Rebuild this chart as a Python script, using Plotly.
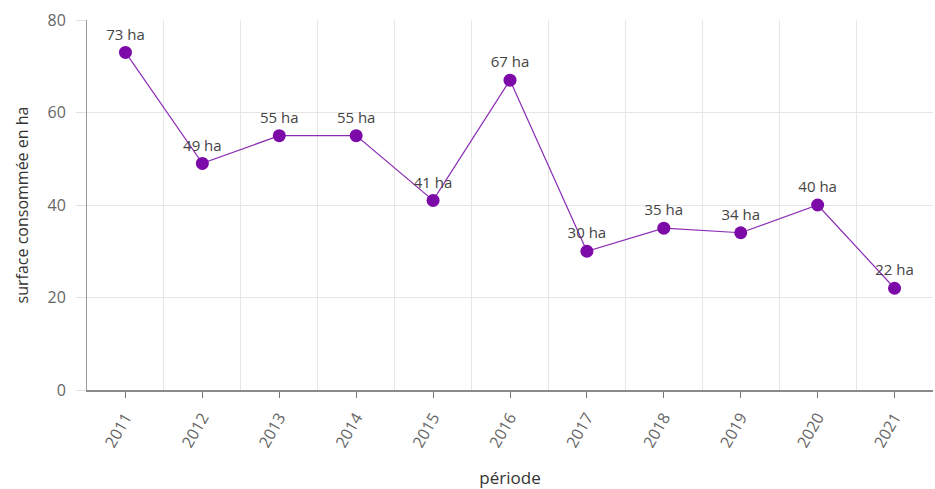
import plotly.graph_objects as go

# Surface consommée par année
annees = ["2011", "2012", "2013", "2014", "2015", "2016", "2017", "2018", "2019", "2020", "2021"]
surfaces = [73, 49, 55, 55, 41, 67, 30, 35, 34, 40, 22]
etiquettes = [f"{v} ha" for v in surfaces]

positions = list(range(len(annees)))
limites = [i + 0.5 for i in positions[:-1]]

violet = "#7b0aa8"
gris_texte = "#666666"
police = "Open Sans, DejaVu Sans, sans-serif"

fig = go.Figure()
fig.add_trace(go.Scatter(
    x=positions,
    y=surfaces,
    mode="lines+markers+text",
    text=etiquettes,
    textposition="top center",
    textfont=dict(family=police, size=15, color="#444444"),
    line=dict(color="#8b2cb5", width=1.2),
    marker=dict(color=violet, size=13),
    cliponaxis=False,
    hoverinfo="skip",
))

fig.update_layout(
    width=935,
    height=489,
    margin=dict(l=87, r=2, t=20, b=99),
    paper_bgcolor="white",
    plot_bgcolor="white",
    showlegend=False,
    font=dict(family=police, color=gris_texte, size=15),
)

fig.update_xaxes(
    range=[-0.5, 10.5],
    tickvals=positions,
    ticktext=annees,
    tickangle=-60,
    ticks="outside",
    ticklen=6,
    tickcolor="#777777",
    showgrid=False,
    showline=True,
    linecolor="#8a8a8a",
    linewidth=2,
    zeroline=False,
    tickfont=dict(size=16, color=gris_texte),
    ticklabelstandoff=4,
    minor=dict(tickvals=limites, showgrid=True, gridcolor="#e6e6e6", gridwidth=1, ticks=""),
    title=dict(text="période", font=dict(size=17, color="#333333"), standoff=24),
)

fig.update_yaxes(
    range=[0, 80],
    tickvals=[0, 20, 40, 60, 80],
    ticks="outside",
    ticklen=10,
    tickcolor="#e0e0e0",
    showgrid=True,
    gridcolor="#e6e6e6",
    gridwidth=1,
    showline=True,
    linecolor="#9a9a9a",
    linewidth=1,
    zeroline=False,
    tickfont=dict(size=16, color=gris_texte),
    ticklabelstandoff=7,
    title=dict(text="surface consommée en ha", font=dict(size=16, color="#333333"), standoff=14),
)

fig.write_html("out.html")
